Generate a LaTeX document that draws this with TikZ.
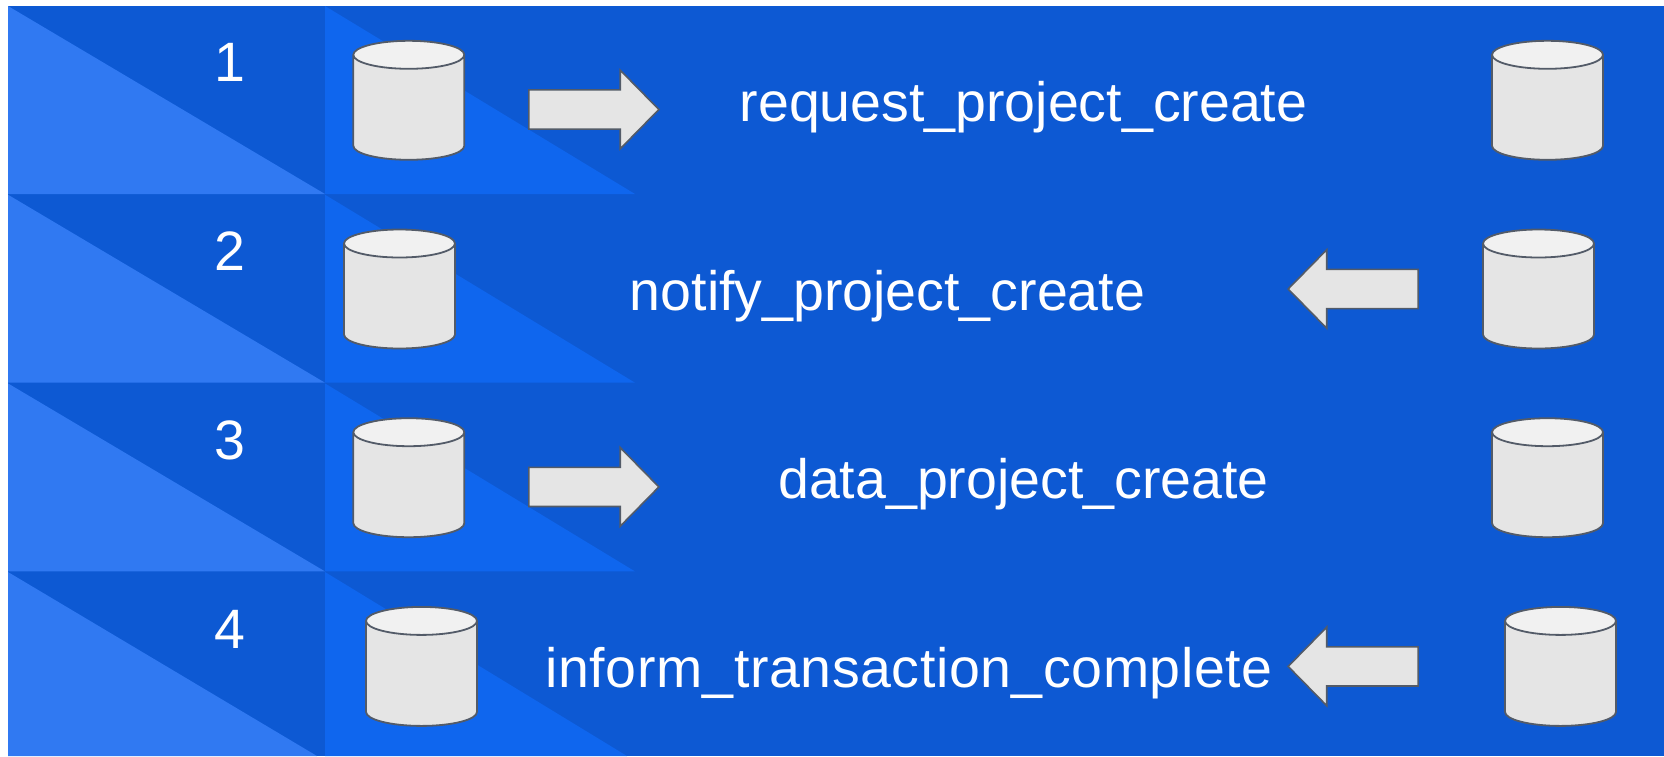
\documentclass[tikz,border=0pt]{standalone}
\usepackage{fontspec}
\setmainfont{Liberation Sans}
\usetikzlibrary{shapes.geometric,shapes.arrows}
\definecolor{bgblue}{HTML}{0D59D3}
\definecolor{lightblue}{HTML}{3079F2}
\definecolor{midblue}{HTML}{0F66EE}
\definecolor{dbbody}{HTML}{E5E5E5}
\definecolor{dbtop}{HTML}{F1F1F1}
\definecolor{dbline}{HTML}{535B68}
\begin{document}
\begin{tikzpicture}[x=1pt,y=-1pt]
    \tikzstyle{every node}+=[inner sep=0pt]
    \tikzstyle{db}=[cylinder,shape border rotate=90,draw=dbline,line width=1.8pt,cylinder uses custom fill,cylinder body fill=dbbody,cylinder end fill=dbtop,inner sep=14pt,minimum width=111pt,minimum height=119pt,shape aspect=1,anchor=shape center]
    \tikzstyle{blockarrow}=[single arrow,draw=dbline,line width=1.6pt,fill=dbbody,minimum height=130pt,inner ysep=18.8pt,single arrow head extend=19.7pt,single arrow tip angle=91,anchor=tip]
    \tikzstyle{msg}=[text=white,font=\fontsize{55.5}{60}\selectfont,anchor=base]
    \fill [white] (0,0) rectangle (1664,756);
    \fill [bgblue] (8,6) rectangle (1664,756);
    % row 1
    \fill [lightblue] (8,6) -- (325,194) -- (8,194) -- cycle;
    \fill [midblue] (325,6) -- (635,194) -- (325,194) -- cycle;
    \node [db] (src1) at (408.8,100.3) {};
    \node [db] (dst1) at (1547.5,100.3) {};
    \node [blockarrow] (arrow1) at (660,109.5) {};
    \node [msg] (label1) at (1023.5,121) {request\_project\_create};
    \node [msg] (num1) at (229.5,81.7) {1};
    % row 2
    \fill [lightblue] (8,194.7) -- (325,382.7) -- (8,382.7) -- cycle;
    \fill [midblue] (325,194.7) -- (635,382.7) -- (325,382.7) -- cycle;
    \node [db] (src2) at (399.5,289) {};
    \node [db] (dst2) at (1538.5,289) {};
    \node [blockarrow,rotate=180] (arrow2) at (1287,289) {};
    \node [msg] (label2) at (887.5,310) {notify\_project\_create};
    \node [msg] (num2) at (229.5,270.7) {2};
    % row 3
    \fill [lightblue] (8,383.4) -- (325,571.4) -- (8,571.4) -- cycle;
    \fill [midblue] (325,383.4) -- (635,571.4) -- (325,571.4) -- cycle;
    \node [db] (src3) at (408.8,477.7) {};
    \node [db] (dst3) at (1547.5,477.7) {};
    \node [blockarrow] (arrow3) at (660,486.9) {};
    \node [msg] (label3) at (1023.5,498.6) {data\_project\_create};
    \node [msg] (num3) at (229.5,459.4) {3};
    % row 4
    \fill [lightblue] (8,572) -- (317,756) -- (8,756) -- cycle;
    \fill [midblue] (325,572) -- (627,756) -- (325,756) -- cycle;
    \node [db] (src4) at (421.5,666.4) {};
    \node [db] (dst4) at (1560.5,666.4) {};
    \node [blockarrow,rotate=180] (arrow4) at (1287,666.4) {};
    \node [msg] (label4) at (909,687.5) {\addfontfeature{LetterSpace=1}inform\_transaction\_complete};
    \node [msg] (num4) at (229.5,648) {4};
\end{tikzpicture}
\end{document}
